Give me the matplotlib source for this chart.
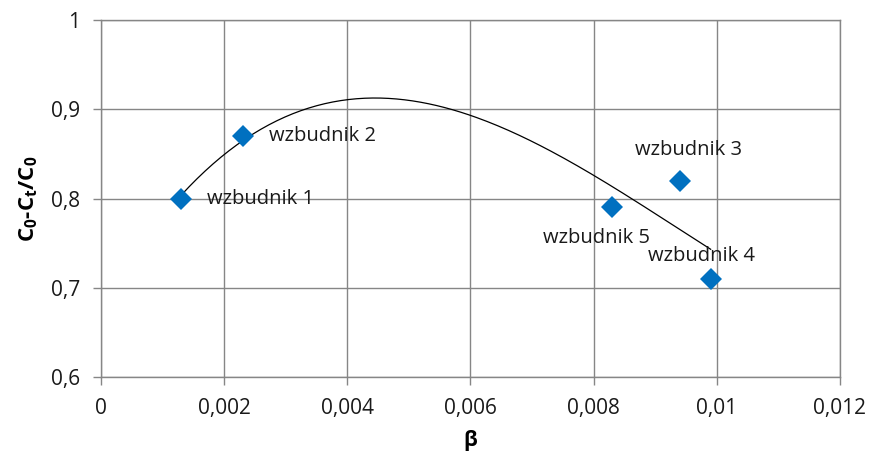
import numpy as np
import matplotlib
matplotlib.use("Agg")
import matplotlib.pyplot as plt
from matplotlib.ticker import FuncFormatter

plt.rcParams['font.family'] = ['Open Sans', 'DejaVu Sans']
plt.rcParams['mathtext.fontset'] = 'custom'
plt.rcParams['mathtext.rm'] = 'Open Sans'
plt.rcParams['mathtext.bf'] = 'Open Sans:bold'

# measured points for each exciter
names = ['wzbudnik 1', 'wzbudnik 2', 'wzbudnik 3', 'wzbudnik 4', 'wzbudnik 5']
beta = [0.0013, 0.0023, 0.0094, 0.0099, 0.0083]
ratio = [0.80, 0.87, 0.82, 0.71, 0.79]
# where each label sits relative to its marker (points), and alignment
label_offsets = [(19, 0), (19, 0), (6, 22), (-6.5, 16.5), (-11, -22)]
label_align = ['left', 'left', 'center', 'center', 'center']

grid_col = '#868686'

fig = plt.figure(figsize=(8.72, 4.61), dpi=100)
ax = fig.add_axes([0.1158, 0.1822, 0.8475, 0.7744])

# 3rd order polynomial trend line
coef = np.polyfit(beta, ratio, 3)
xs = np.linspace(min(beta), max(beta), 200)
ax.plot(xs, np.polyval(coef, xs), color='black', lw=0.9, zorder=2)

ax.plot(beta, ratio, linestyle='none', marker='D', ms=11, color='#0070C0',
        markeredgewidth=0, zorder=3)

for n, x, y, off, ha in zip(names, beta, ratio, label_offsets, label_align):
    ax.annotate(n, (x, y), xytext=off, textcoords='offset points',
                ha=ha, va='center', fontsize=14.5, color='#1a1a1a')

ax.set_xlim(0, 0.012)
ax.set_ylim(0.6, 1.0)
ax.set_xticks(np.arange(0, 0.0121, 0.002))
ax.set_yticks(np.arange(0.6, 1.001, 0.1))

def comma(v, pos):
    s = ('%.3f' % v).rstrip('0').rstrip('.')
    return s.replace('.', ',')

ax.xaxis.set_major_formatter(FuncFormatter(comma))
ax.yaxis.set_major_formatter(FuncFormatter(comma))

ax.grid(True, color=grid_col, lw=1)
ax.set_axisbelow(True)
for s in ax.spines.values():
    s.set_color(grid_col)
    s.set_linewidth(1)
ax.tick_params(colors=grid_col, labelcolor='#1a1a1a', labelsize=15,
               length=6, width=1, direction='out', pad=9)

ax.set_xlabel('β', fontsize=15, fontweight='bold', labelpad=8)
ax.set_ylabel(r'$\mathbf{C_0}$-$\mathbf{C_t}$/$\mathbf{C_0}$', fontsize=16,
              fontweight='bold', labelpad=8)

fig.savefig('out.png', dpi=100)
